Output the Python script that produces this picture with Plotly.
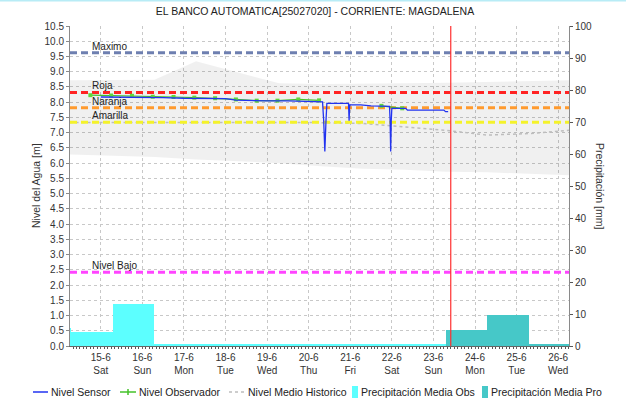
import plotly.graph_objects as go

# ---------------- data ----------------
title_text = "EL BANCO AUTOMATICA[25027020] - CORRIENTE: MAGDALENA"

# water level from the automatic sensor [m]
sensor_time = [
    "2024-06-15 00:00", "2024-06-15 12:00", "2024-06-16 00:00", "2024-06-16 06:00",
    "2024-06-16 12:00", "2024-06-17 00:00", "2024-06-17 12:00", "2024-06-18 00:00",
    "2024-06-18 06:00", "2024-06-18 14:00", "2024-06-19 00:00", "2024-06-19 12:00",
    "2024-06-20 00:00", "2024-06-20 08:00", "2024-06-20 08:40", "2024-06-20 09:20",
    "2024-06-20 10:00", "2024-06-20 10:30", "2024-06-20 23:00", "2024-06-20 23:20",
    "2024-06-20 23:40", "2024-06-21 06:00", "2024-06-21 12:00", "2024-06-21 22:40",
    "2024-06-21 23:00", "2024-06-21 23:20", "2024-06-21 23:40", "2024-06-22 00:00",
    "2024-06-22 08:00", "2024-06-22 09:00", "2024-06-23 06:00", "2024-06-23 07:00",
    "2024-06-23 08:30",
]
sensor_level = [
    8.17, 8.17, 8.16, 8.15,
    8.15, 8.13, 8.13, 8.12,
    8.07, 8.05, 8.04, 8.04,
    8.01, 8.01, 7.40, 6.38,
    7.40, 7.96, 7.96, 7.39,
    7.91, 7.91, 7.88, 7.86,
    7.40, 6.38, 7.40, 7.80,
    7.80, 7.74, 7.74, 7.69,
    7.69,
]

# manual gauge readings (06:00 / 18:00) [m]
observer_time = [
    "2024-06-14 18:00", "2024-06-15 06:00", "2024-06-15 18:00", "2024-06-16 06:00",
    "2024-06-16 18:00", "2024-06-17 06:00", "2024-06-17 18:00", "2024-06-18 06:00",
    "2024-06-18 18:00", "2024-06-19 06:00", "2024-06-19 18:00", "2024-06-20 06:00",
    "2024-06-21 06:00", "2024-06-21 18:00", "2024-06-22 06:00",
]
observer_level = [
    8.23, 8.22, 8.21, 8.18,
    8.17, 8.15, 8.13, 8.09,
    8.05, 8.05, 8.09, 8.06,
    None, 7.88, 7.80,
]

# historical statistics [m]
hist_time = [
    "2024-06-14 06:00", "2024-06-15 07:00", "2024-06-16 07:00", "2024-06-17 07:00",
    "2024-06-18 07:00", "2024-06-19 07:00", "2024-06-20 07:00", "2024-06-21 07:00",
    "2024-06-22 07:00", "2024-06-23 07:00", "2024-06-24 07:00", "2024-06-25 07:00",
    "2024-06-26 07:00",
]
hist_max = [8.72, 8.72, 8.74, 9.34, 8.98, 8.62, 8.60, 8.60, 8.62, 8.64, 8.66, 8.70, 8.72]
hist_min = [6.28, 6.25, 6.20, 6.12, 6.05, 6.00, 5.90, 5.82, 5.78, 5.72, 5.70, 5.65, 5.60]
hist_mean = [7.33, 7.33, 7.33, 7.33, 7.33, 7.33, 7.33, 7.30, 7.20, 7.08, 6.92, 6.97, 7.08]

# daily precipitation, 07:00 to 07:00 [mm]
precip_obs_start = [
    "2024-06-13 07:00", "2024-06-14 07:00", "2024-06-15 07:00", "2024-06-16 07:00",
    "2024-06-17 07:00", "2024-06-18 07:00", "2024-06-19 07:00", "2024-06-20 07:00",
    "2024-06-21 07:00", "2024-06-22 07:00",
]
precip_obs = [5.5, 4.5, 13.1, 0.5, 0.5, 0.5, 0.5, 0.5, 0.5, 0.5]
precip_pro_start = ["2024-06-23 07:00", "2024-06-24 07:00", "2024-06-25 07:00"]
precip_pro = [5.0, 9.8, 0.5]

# alert levels [m]
threshold_names = ["Maximo", "Roja", "Naranja", "Amarilla", "Nivel Bajo"]
threshold_levels = [9.62, 8.32, 7.82, 7.34, 2.42]
threshold_colors = ["#6e7fb0", "#ff2222", "#ff9a2e", "#f4f22a", "#ff44ff"]

current_time = "2024-06-23 10:00"

day_ticks = [
    "2024-06-15", "2024-06-16", "2024-06-17", "2024-06-18", "2024-06-19", "2024-06-20",
    "2024-06-21", "2024-06-22", "2024-06-23", "2024-06-24", "2024-06-25", "2024-06-26",
]
day_labels = [
    "15-6<br>Sat", "16-6<br>Sun", "17-6<br>Mon", "18-6<br>Tue", "19-6<br>Wed", "20-6<br>Thu",
    "21-6<br>Fri", "22-6<br>Sat", "23-6<br>Sun", "24-6<br>Mon", "25-6<br>Tue", "26-6<br>Wed",
]
x_range = ["2024-06-14 06:15", "2024-06-26 06:15"]

# ---------------- styling ----------------
FONT = "Liberation Sans, Arial, sans-serif"
TXT = "#333333"
SENSOR_C = "#2233f0"
OBS_C = "#44c22a"
HIST_C = "#bdbdbd"
POBS_C = "#5cffff"
PPRO_C = "#46c8c8"
DAY_MS = 86400000

W, H = 626, 402
ML, MR, MT, MB = 70, 57, 26, 56
PW, PH = W - ML - MR, H - MT - MB


def px_x(px):
    return (px - ML) / PW


def px_y(py):
    return (H - MB - py) / PH


fig = go.Figure()

# historical envelope
fig.add_trace(go.Scatter(x=hist_time, y=hist_max, mode="lines", line=dict(width=0),
                         hoverinfo="skip", showlegend=False))
fig.add_trace(go.Scatter(x=hist_time, y=hist_min, mode="lines", line=dict(width=0),
                         fill="tonexty", fillcolor="rgba(0,0,0,0.06)",
                         hoverinfo="skip", showlegend=False))
fig.add_trace(go.Scatter(x=hist_time, y=hist_mean, mode="lines", name="Nivel Medio Historico",
                         line=dict(color=HIST_C, width=1.5, dash="dot"), showlegend=False))

# alert levels, drawn over the envelope and under the measured levels
annotations = []
for name, lvl, col in zip(threshold_names, threshold_levels, threshold_colors):
    fig.add_trace(go.Scatter(x=x_range, y=[lvl, lvl], mode="lines", name=name,
                             line=dict(color=col, width=3, dash="7px,4px"),
                             hoverinfo="skip", showlegend=False))
    annotations.append(dict(xref="paper", yref="y", x=px_x(90), y=lvl, text=name,
                            showarrow=False, xanchor="left", yanchor="bottom", yshift=-1,
                            font=dict(family=FONT, size=10, color="#222222")))

# precipitation bars on the secondary axis
fig.add_trace(go.Bar(x=precip_obs_start, y=precip_obs, width=[DAY_MS] * len(precip_obs),
                     offset=0, marker=dict(color=POBS_C, line=dict(width=0)),
                     name="Precipitación Media Obs", yaxis="y2", showlegend=False))
fig.add_trace(go.Bar(x=precip_pro_start, y=precip_pro, width=[DAY_MS] * len(precip_pro),
                     offset=0, marker=dict(color=PPRO_C, line=dict(width=0)),
                     name="Precipitación Media Pro", yaxis="y2", showlegend=False))

# water levels
fig.add_trace(go.Scatter(x=observer_time, y=observer_level, mode="lines+markers",
                         name="Nivel Observador", connectgaps=False,
                         line=dict(color=OBS_C, width=1.2),
                         marker=dict(symbol="square", size=4, color="#5fd83a"),
                         showlegend=False))
fig.add_trace(go.Scatter(x=sensor_time, y=sensor_level, mode="lines", name="Nivel Sensor",
                         line=dict(color=SENSOR_C, width=1.3), showlegend=False))

shapes = []

# current time marker
shapes.append(dict(type="line", xref="x", yref="paper", x0=current_time, x1=current_time,
                   y0=0, y1=1, line=dict(color="#ff3030", width=1.2)))

# thin frame line at the top of the page
shapes.append(dict(type="line", xref="paper", yref="paper", x0=px_x(0), x1=px_x(W),
                   y0=px_y(0.5), y1=px_y(0.5), line=dict(color="#b8ecf6", width=2)))

# legend row
LY = px_y(392)
legend_items = [
    ("line", 33, 48, SENSOR_C, "Nivel Sensor", 50),
    ("plus", 120, 136, OBS_C, "Nivel Observador", 138),
    ("dot", 229, 245, HIST_C, "Nivel Medio Historico", 247),
    ("box", 352, 358, POBS_C, "Precipitación Media Obs", 360),
    ("box", 482, 488, PPRO_C, "Precipitación Media Pro", 490),
]
for kind, a, b, col, label, tx in legend_items:
    if kind == "box":
        shapes.append(dict(type="rect", xref="paper", yref="paper", x0=px_x(a), x1=px_x(b),
                           y0=px_y(398), y1=px_y(386), fillcolor=col, line=dict(width=0)))
    else:
        shapes.append(dict(type="line", xref="paper", yref="paper", x0=px_x(a), x1=px_x(b),
                           y0=LY, y1=LY,
                           line=dict(color=col, width=1.5,
                                     dash="dot" if kind == "dot" else "solid")))
        if kind == "plus":
            m = (a + b) / 2
            shapes.append(dict(type="line", xref="paper", yref="paper", x0=px_x(m), x1=px_x(m),
                               y0=px_y(389), y1=px_y(395), line=dict(color=col, width=1.5)))
    annotations.append(dict(xref="paper", yref="paper", x=px_x(tx - 1), y=LY, text=label,
                            showarrow=False, xanchor="left", yanchor="middle",
                            font=dict(family=FONT, size=10.5, color="#222222")))

# axis titles
annotations.append(dict(xref="paper", yref="paper", x=px_x(36), y=0.5, text="Nivel del Agua [m]",
                        textangle=-90, showarrow=False, xanchor="center", yanchor="middle",
                        font=dict(family=FONT, size=10.5, color=TXT)))
annotations.append(dict(xref="paper", yref="paper", x=px_x(600), y=0.5, text="Precipitación [mm]",
                        textangle=90, showarrow=False, xanchor="center", yanchor="middle",
                        font=dict(family=FONT, size=10.5, color=TXT)))

fig.update_layout(
    width=W, height=H,
    margin=dict(l=ML, r=MR, t=MT, b=MB, pad=0),
    paper_bgcolor="white", plot_bgcolor="white",
    title=dict(text=title_text, x=315 / W, xref="container", xanchor="center",
               y=1 - 11 / H, yref="container", yanchor="middle",
               font=dict(family=FONT, size=10.5, color="#222222")),
    barmode="overlay", bargap=0,
    showlegend=False,
    shapes=shapes, annotations=annotations,
    xaxis=dict(
        type="date", range=x_range, tickvals=day_ticks, ticktext=day_labels,
        showgrid=True, gridcolor="#c8c8c8", griddash="dot", gridwidth=1,
        showline=True, linecolor="#666666", linewidth=1,
        ticks="outside", ticklen=2, tickcolor="#666666",
        minor=dict(dtick=7200000, ticks="outside", ticklen=2, tickcolor="#555555", showgrid=False),
        tickfont=dict(family=FONT, size=10, color=TXT), zeroline=False,
    ),
    yaxis=dict(
        range=[0, 10.5], dtick=0.5, tick0=0, tickformat=".1f",
        showgrid=True, gridcolor="#c8c8c8", griddash="dot", gridwidth=1,
        showline=True, linecolor="#8a8a8a", linewidth=1,
        ticks="outside", ticklen=3, tickcolor="#8a8a8a",
        tickfont=dict(family=FONT, size=10, color=TXT), zeroline=False,
    ),
    yaxis2=dict(
        range=[0, 100], dtick=10, overlaying="y", side="right",
        showgrid=False, showline=True, linecolor="#8a8a8a", linewidth=1,
        ticks="outside", ticklen=3, tickcolor="#555555",
        tickfont=dict(family=FONT, size=10, color=TXT), zeroline=False,
    ),
)

fig.write_html("out.html")
